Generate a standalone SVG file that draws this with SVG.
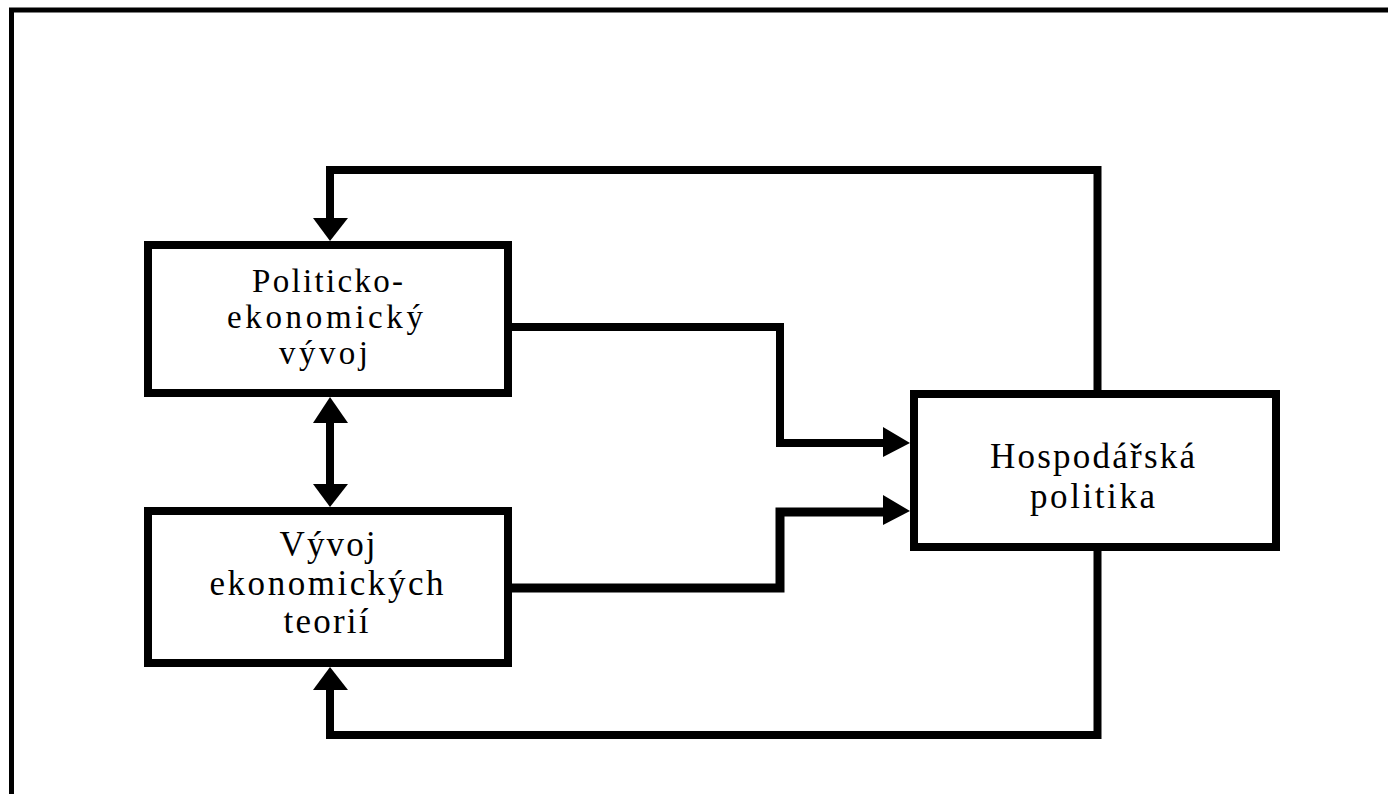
<svg xmlns="http://www.w3.org/2000/svg" width="1388" height="794" viewBox="0 0 1388 794">
  <style>
    .box { fill: #ffffff; stroke: #000000; stroke-width: 8; }
    .ln { fill: none; stroke: #000000; stroke-width: 8; stroke-linejoin: miter; stroke-linecap: butt; }
    .ah { fill: #000000; stroke: none; }
    .t { font-family: "Liberation Serif", "Times New Roman", serif; font-size: 35px; fill: #000000; text-anchor: middle; }
    .s { font-size: 33px; }
  </style>
  <rect x="0" y="0" width="1388" height="794" fill="#ffffff"/>
  <path d="M11.5,794 V10 H1388" fill="none" stroke="#000000" stroke-width="5"/>

  <g id="connectors">
    <path class="ln" d="M1097.5,390 V170 H330 V218"/>
    <polygon class="ah" points="313,218 348,218 330,241"/>
    <path class="ln" d="M1097.5,551 V735 H330 V690"/>
    <polygon class="ah" points="313,690 348,690 330,667"/>
    <path class="ln" d="M330,423 V484"/>
    <polygon class="ah" points="313,423 348,423 330,397"/>
    <polygon class="ah" points="313,484 348,484 330,507"/>
    <path class="ln" d="M512,327 H780 V443 H884"/>
    <polygon class="ah" points="883,427 883,457 910,443"/>
    <path class="ln" style="stroke-width:9" d="M512,588 H780 V512 H884"/>
    <polygon class="ah" points="883,495 883,525 910,511"/>
  </g>

  <g id="node-politicko">
    <rect class="box" x="148" y="245" width="360" height="148"/>
    <text class="t s" x="327.5" y="292" textLength="151" lengthAdjust="spacing">Politicko-</text>
    <text class="t s" x="325" y="328" textLength="196" lengthAdjust="spacing">ekonomický</text>
    <text class="t s" x="323.5" y="364" textLength="89" lengthAdjust="spacing">vývoj</text>
  </g>

  <g id="node-vyvoj">
    <rect class="box" x="148" y="511" width="360" height="152"/>
    <text class="t" x="327.5" y="556" textLength="96" lengthAdjust="spacing">Vývoj</text>
    <text class="t" x="326.5" y="595" textLength="234" lengthAdjust="spacing">ekonomických</text>
    <text class="t" x="326" y="633" textLength="85" lengthAdjust="spacing">teorií</text>
  </g>

  <g id="node-hospodarska">
    <rect class="box" x="914" y="394" width="362" height="153"/>
    <text class="t" x="1092.5" y="468" textLength="205" lengthAdjust="spacing">Hospodářská</text>
    <text class="t" x="1092.5" y="508" textLength="125" lengthAdjust="spacing">politika</text>
  </g>
</svg>
